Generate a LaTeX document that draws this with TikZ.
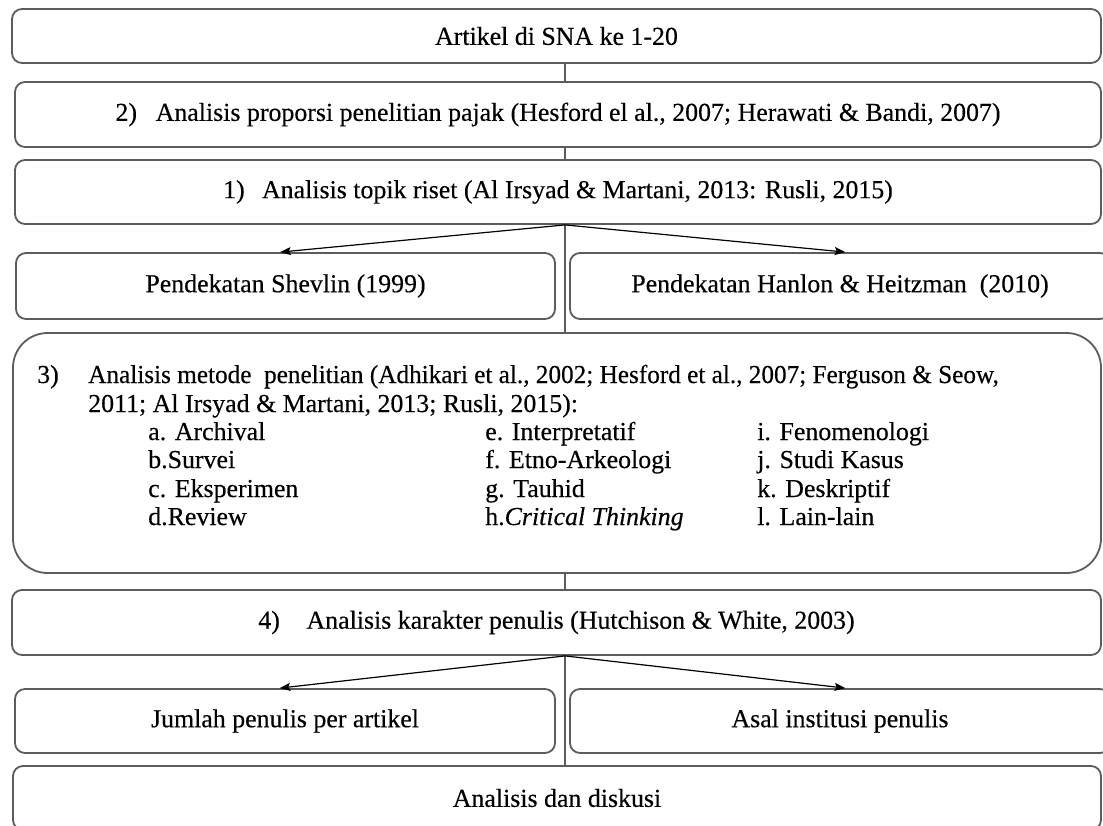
\documentclass[tikz,border=0pt]{standalone}
\usepackage{graphicx}
\usepackage{fontspec}
\setmainfont{Liberation Serif}[UprightFeatures={FakeBold=0.35},ItalicFeatures={FakeBold=0.35}]
\usetikzlibrary{arrows.meta}
\begin{document}
\begin{tikzpicture}[x=0.75pt,y=-0.75pt,
  font=\fontsize{19.4}{21}\selectfont,
  box/.style={draw=black!64, line width=1.35pt, rounded corners=7.5pt, inner sep=0pt, text=black},
  bigbox/.style={draw=black!64, line width=1.35pt, rounded corners=26pt, inner sep=0pt},
  link/.style={draw=black!64, line width=1.35pt},
  arr/.style={draw=black, line width=0.9pt, -{Stealth[length=8pt,width=6pt,inset=1.5pt]}},
  txt/.style={anchor=base west, inner sep=0pt}]
\useasboundingbox (0,0) rectangle (1103,825);
\clip (0,0) rectangle (1103,825);
\coordinate (mx) at (565,0);

\node[box, minimum width=816.75pt, minimum height=40.5pt] (b1) at (556.5,36)
  {Artikel di SNA ke 1-20};
\node[box, minimum width=814.5pt, minimum height=48.75pt] (b2) at (558,114.5)
  {2)\hspace{14pt}Analisis proporsi penelitian pajak (Hesford el al., 2007; Herawati \& Bandi, 2007)};
\node[box, minimum width=814.5pt, minimum height=48pt] (b3) at (558,192)
  {1)\hspace{13pt}Analisis topik riset (Al Irsyad \& Martani, 2013: Rusli, 2015)};
\node[box, minimum width=404.25pt, minimum height=49.5pt] (sh) at (285.5,286)
  {Pendekatan Shevlin (1999)};
\node[box, minimum width=405pt, minimum height=49.5pt] (hz) at (840,286)
  {Pendekatan Hanlon \& Heitzman\ \ (2010)};
\node[bigbox, minimum width=816pt, minimum height=180pt] (mt) at (557,453) {};
\node[box, minimum width=816.75pt, minimum height=48.75pt] (b4) at (556.5,622.5)
  {4)\hspace{20pt}Analisis karakter penulis (Hutchison \& White, 2003)};
\node[box, minimum width=405pt, minimum height=48pt] (ju) at (285,721)
  {Jumlah penulis per artikel};
\node[box, minimum width=405pt, minimum height=48pt] (as) at (840,721)
  {Asal institusi penulis};
\node[box, minimum width=816pt, minimum height=48pt] (ad) at (557,798)
  {Analisis dan diskusi};

% text of the method box
\node[txt] (t0) at (37,383) {3)};
\node[txt] (t1) at (88,383) {\scalebox{0.975}[1]{Analisis metode\ \ penelitian (Adhikari et al., 2002; Hesford et al., 2007; Ferguson \& Seow,}};
\node[txt] (t2) at (88,412) {2011; Al Irsyad \& Martani, 2013; Rusli, 2015):};
\node[txt] (ca) at (148,440) {a. Archival};
\node[txt] (cb) at (148,468) {b.Survei};
\node[txt] (cc) at (148,497) {c. Eksperimen};
\node[txt] (cd) at (148,525) {d.Review};
\node[txt] (ce) at (485,440) {e. Interpretatif};
\node[txt] (cf) at (485,468) {f. Etno-Arkeologi};
\node[txt] (cg) at (485,497) {g. Tauhid};
\node[txt] (ch) at (485,525) {h.\textit{Critical Thinking}};
\node[txt] (ci) at (757,440) {i. Fenomenologi};
\node[txt] (cj) at (757,468) {j. Studi Kasus};
\node[txt] (ck) at (757,497) {k. Deskriptif};
\node[txt] (cl) at (757,525) {l. Lain-lain};

% connectors
\draw[link] (b1.south -| mx) -- (b2.north -| mx);
\draw[link] (b2.south -| mx) -- (b3.north -| mx);
\draw[link] (b3.south -| mx) -- (mt.north -| mx);
\draw[link] (mt.south -| mx) -- (b4.north -| mx);
\draw[link] (b4.south -| mx) -- (ad.north -| mx);
\draw[arr] (b3.south -| mx) -- ([xshift=-4pt]sh.north);
\draw[arr] (b3.south -| mx) -- ([xshift=4pt]hz.north);
\draw[arr] (b4.south -| mx) -- ([xshift=-4pt]ju.north);
\draw[arr] (b4.south -| mx) -- ([xshift=4pt]as.north);
\end{tikzpicture}
\end{document}
